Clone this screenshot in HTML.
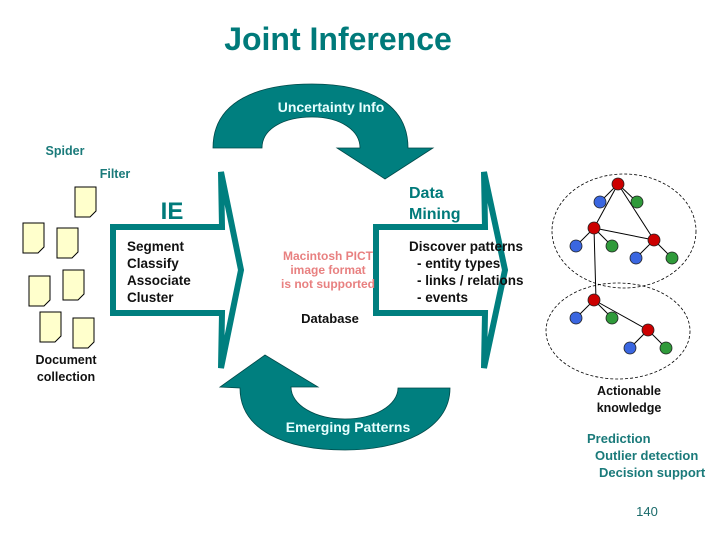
<!DOCTYPE html>
<html><head><meta charset="utf-8"><style>
html,body{margin:0;padding:0;background:#fff;}
svg{display:block;font-family:"Liberation Sans",Arial,sans-serif;}
</style></head><body>
<svg width="720" height="540" viewBox="0 0 720 540" xmlns="http://www.w3.org/2000/svg">
<rect width="720" height="540" fill="#fff"/>
<text x="338" y="50" text-anchor="middle" font-size="32" font-weight="bold" fill="#007a7a">Joint Inference</text>

<path d="M213,148 C213,100 260,84 312,84 C370,84 408,105 408,148 L433,148 L385,179 L337,148 L360,148 C360,130 340,117 312,117 C285,117 262,128 262,148 Z" fill="#007f7f" stroke="#004848" stroke-width="0.8"/>
<text x="331" y="112" text-anchor="middle" font-size="14" font-weight="bold" fill="#e8ffff">Uncertainty Info</text>

<path d="M450,388 C450,430 400,450 345,450 C285,450 240,430 240,388 L220,387 L265,355 L318,387 L291,387 C291,405 315,419 345,419 C375,419 398,405 398,388 Z" fill="#007f7f" stroke="#004848" stroke-width="0.8"/>
<text x="348" y="432" text-anchor="middle" font-size="14" font-weight="bold" fill="#e8ffff">Emerging Patterns</text>

<text x="65" y="155" text-anchor="middle" font-size="12.5" font-weight="bold" fill="#1a7a7a">Spider</text>
<text x="115" y="178" text-anchor="middle" font-size="12.5" font-weight="bold" fill="#1a7a7a">Filter</text>

<g fill="#ffffcc" stroke="#000" stroke-width="1">
<path d="M75,187 h21 v24 l-6,6 h-15 z"/>
<path d="M23,223 h21 v24 l-6,6 h-15 z"/>
<path d="M57,228 h21 v24 l-6,6 h-15 z"/>
<path d="M29,276 h21 v24 l-6,6 h-15 z"/>
<path d="M63,270 h21 v24 l-6,6 h-15 z"/>
<path d="M40,312 h21 v24 l-6,6 h-15 z"/>
<path d="M73,318 h21 v24 l-6,6 h-15 z"/>
</g>
<text x="66" y="364" text-anchor="middle" font-size="12.5" font-weight="bold" fill="#111">Document</text>
<text x="66" y="381" text-anchor="middle" font-size="12.5" font-weight="bold" fill="#111">collection</text>

<path d="M113,227 L222,227 L221,172 L241,270 L221,368 L222,313 L113,313 Z" fill="#fff" stroke="#007f7f" stroke-width="6" stroke-linejoin="miter"/>
<text x="172" y="219" text-anchor="middle" font-size="24" font-weight="bold" fill="#007a7a">IE</text>
<g font-size="13.5" font-weight="bold" fill="#111">
<text x="127" y="251">Segment</text>
<text x="127" y="268">Classify</text>
<text x="127" y="285">Associate</text>
<text x="127" y="302">Cluster</text>
</g>

<path d="M376,227 L485,227 L484,172 L505,270 L484,368 L485,313 L376,313 Z" fill="#fff" stroke="#007f7f" stroke-width="6" stroke-linejoin="miter"/>
<text x="409" y="198" font-size="16" font-weight="bold" fill="#007a7a">Data</text>
<text x="409" y="219" font-size="16" font-weight="bold" fill="#007a7a">Mining</text>
<g font-size="13.5" font-weight="bold" fill="#111">
<text x="409" y="251">Discover patterns</text>
<text x="417" y="268">- entity types</text>
<text x="417" y="285">- links / relations</text>
<text x="417" y="302">- events</text>
</g>

<g font-size="12" font-weight="bold" fill="#e88080" text-anchor="middle">
<text x="328" y="260">Macintosh PICT</text>
<text x="328" y="274">image format</text>
<text x="328" y="288">is not supported</text>
</g>
<text x="330" y="323" text-anchor="middle" font-size="13" font-weight="bold" fill="#111">Database</text>

<ellipse cx="624" cy="231" rx="72" ry="57" fill="none" stroke="#000" stroke-dasharray="3,2" stroke-width="0.8"/>
<ellipse cx="618" cy="331" rx="72" ry="48" fill="none" stroke="#000" stroke-dasharray="3,2" stroke-width="0.8"/>
<g stroke="#000" stroke-width="1">
<line x1="618" y1="184" x2="600" y2="202"/><line x1="618" y1="184" x2="637" y2="202"/>
<line x1="618" y1="184" x2="594" y2="228"/><line x1="618" y1="184" x2="654" y2="240"/>
<line x1="594" y1="228" x2="654" y2="240"/><line x1="594" y1="228" x2="576" y2="246"/>
<line x1="594" y1="228" x2="612" y2="246"/><line x1="654" y1="240" x2="636" y2="258"/>
<line x1="654" y1="240" x2="672" y2="258"/><line x1="594" y1="228" x2="596" y2="300"/>
<line x1="594" y1="300" x2="576" y2="318"/><line x1="594" y1="300" x2="612" y2="318"/>
<line x1="594" y1="300" x2="648" y2="330"/><line x1="648" y1="330" x2="630" y2="348"/>
<line x1="648" y1="330" x2="666" y2="348"/>
</g>
<g stroke="#222" stroke-width="0.8">
<g fill="#cc0000">
<circle cx="618" cy="184" r="6"/><circle cx="594" cy="228" r="6"/><circle cx="654" cy="240" r="6"/>
<circle cx="594" cy="300" r="6"/><circle cx="648" cy="330" r="6"/></g>
<g fill="#3a66e0">
<circle cx="600" cy="202" r="6"/><circle cx="576" cy="246" r="6"/><circle cx="636" cy="258" r="6"/>
<circle cx="576" cy="318" r="6"/><circle cx="630" cy="348" r="6"/></g>
<g fill="#2f9a3a">
<circle cx="637" cy="202" r="6"/><circle cx="612" cy="246" r="6"/><circle cx="672" cy="258" r="6"/>
<circle cx="612" cy="318" r="6"/><circle cx="666" cy="348" r="6"/></g>
</g>

<text x="629" y="395" text-anchor="middle" font-size="12.5" font-weight="bold" fill="#111">Actionable</text>
<text x="629" y="412" text-anchor="middle" font-size="12.5" font-weight="bold" fill="#111">knowledge</text>
<g font-size="13" font-weight="bold" fill="#1a7a7a">
<text x="587" y="443">Prediction</text>
<text x="595" y="460">Outlier detection</text>
<text x="599" y="477">Decision support</text>
</g>
<text x="647" y="516" text-anchor="middle" font-size="13" fill="#1a6a6a">140</text>
</svg>
</body></html>
